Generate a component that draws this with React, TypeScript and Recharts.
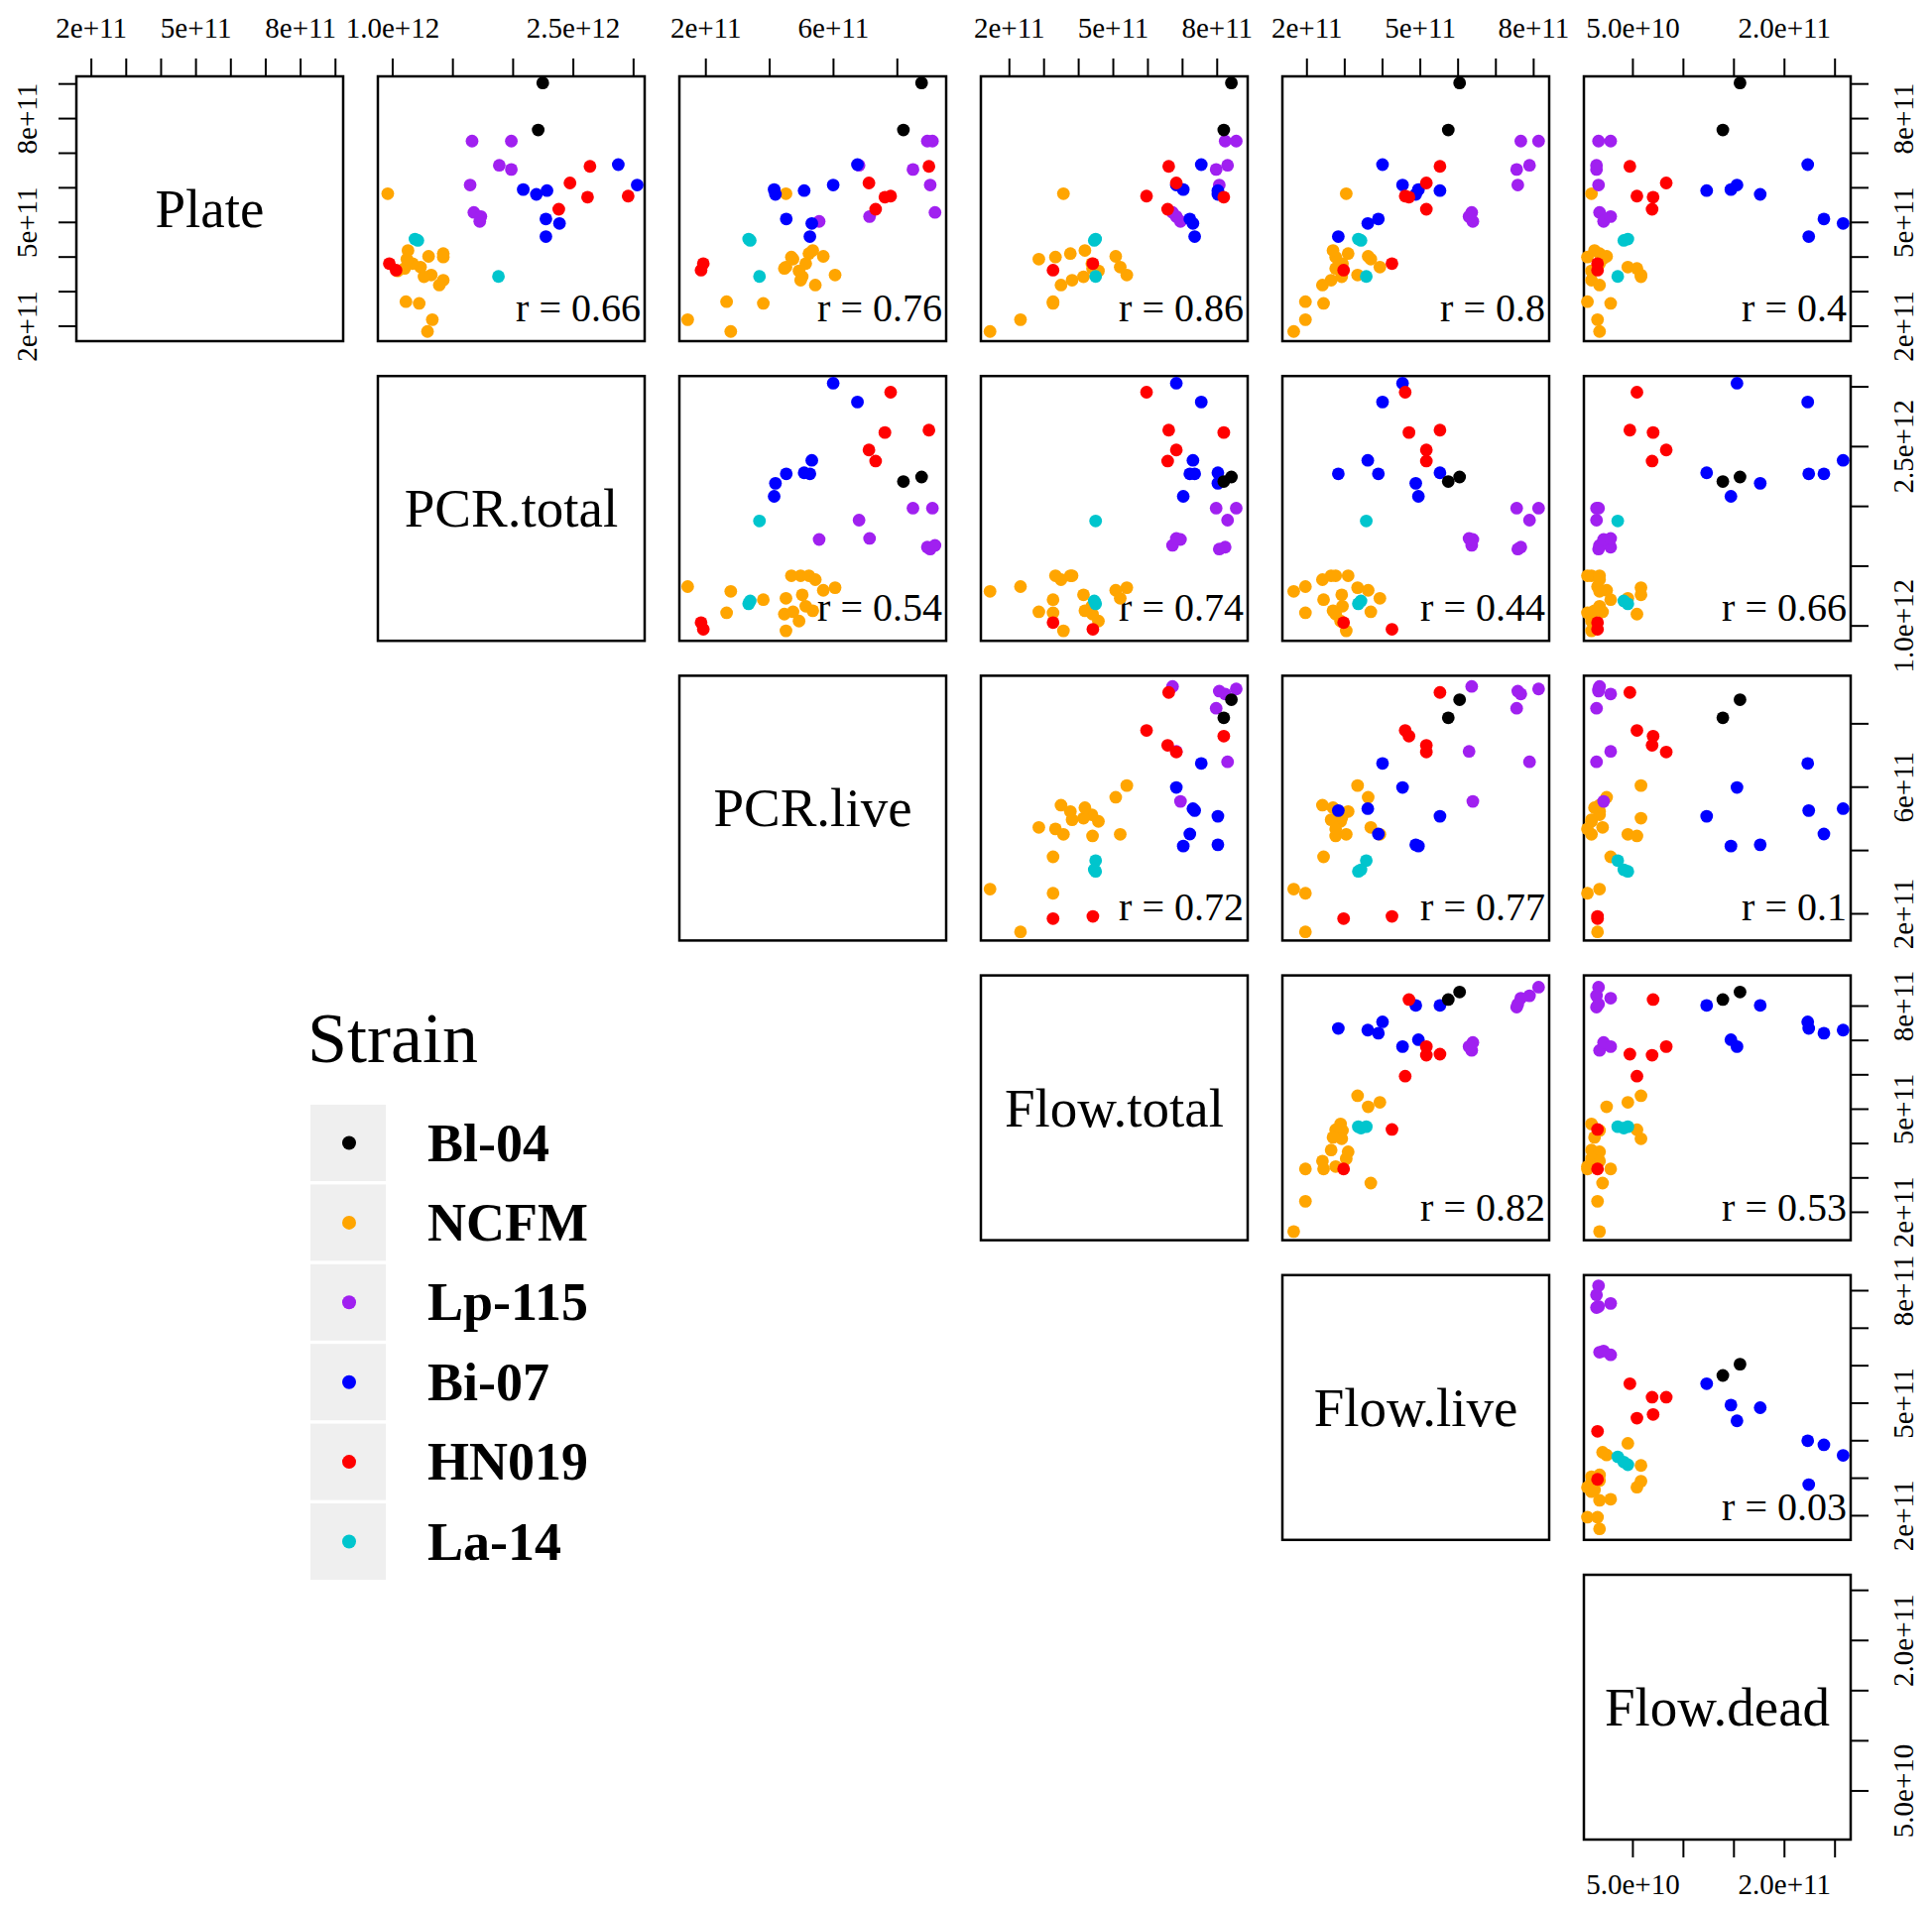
import React from 'react';
import { ScatterChart, Scatter, XAxis, YAxis } from 'recharts';

// ---------- data (all values in units of 1e11) ----------
// columns: Plate, PCR.total, PCR.live, Flow.total, Flow.live, Flow.dead
const VARIABLES = ['Plate', 'PCR.total', 'PCR.live', 'Flow.total', 'Flow.live', 'Flow.dead'];

const BL04 = [
  [9.03, 22.46, 8.76, 8.41, 6.04, 1.56],
  [7.67, 22.08, 8.19, 8.19, 5.74, 1.39],
];
const NCFM = [
  [3.48, 13.2, 6.05, 5.39, 3.34, 0.58],
  [4.02, 12.98, 5.68, 5.07, 3.62, 0.24],
  [3.71, 12.31, 4.51, 5.2, 3.93, 0.45],
  [3.6, 10.41, 4.92, 4.57, 2.89, 0.09],
  [3.81, 11.65, 5.13, 4.38, 2.94, 0.17],
  [3.43, 12.6, 5.02, 4.14, 2.92, 0.58],
  [3.67, 10.99, 4.46, 4.4, 2.76, 0.54],
  [3.33, 14.2, 4.97, 3.81, 2.64, 0.09],
  [4.1, 14.2, 5.23, 3.76, 3.09, 0.17],
  [5.83, 9.59, 4.51, 3.56, 3.04, 0.09],
  [4.0, 14.2, 4.68, 3.33, 2.76, 0.05],
  [2.66, 12.2, 3.8, 3.26, 2.44, 0.28],
  [2.71, 11.1, 2.65, 3.26, 1.96, 0.05],
  [3.94, 11.18, 4.73, 2.85, 3.69, 0.2],
  [2.19, 13.29, 1.43, 2.32, 1.96, 0.15],
  [1.85, 12.89, 2.78, 1.44, 1.65, 0.17],
  [4.19, 11.27, 5.35, 4.18, 2.69, 0.12],
  [3.19, 13.87, 5.43, 3.49, 2.41, 0.17],
];
const LP115 = [
  [7.35, 19.85, 9.1, 8.55, 8.13, 0.16],
  [6.53, 19.85, 8.49, 7.97, 7.55, 0.14],
  [6.65, 18.85, 6.8, 8.3, 7.89, 0.14],
  [7.35, 16.59, 8.94, 8.23, 7.66, 0.28],
  [6.08, 16.43, 9.03, 8.06, 7.58, 0.16],
  [5.29, 16.74, 9.18, 6.71, 6.36, 0.17],
  [5.03, 17.23, 5.55, 6.94, 6.39, 0.21],
  [5.17, 17.32, 7.13, 6.82, 6.29, 0.28],
];
const BI07 = [
  [5.92, 22.81, 5.08, 8.02, 5.52, 1.23],
  [5.81, 21.93, 4.18, 8.02, 4.88, 1.76],
  [5.95, 20.84, 4.14, 7.02, 4.95, 1.47],
  [6.08, 30.3, 5.99, 6.82, 4.53, 1.53],
  [4.59, 22.72, 5.26, 7.35, 2.83, 2.24],
  [6.67, 28.73, 6.75, 7.54, 4.0, 2.23],
  [5.1, 22.72, 4.52, 7.21, 3.89, 2.39],
  [4.97, 23.85, 5.32, 7.3, 3.61, 2.58],
];
const HN019 = [
  [6.62, 26.38, 8.99, 6.6, 5.52, 0.47],
  [6.14, 24.72, 7.11, 6.82, 5.16, 0.83],
  [5.38, 23.79, 7.32, 6.57, 5.16, 0.69],
  [5.73, 26.18, 7.61, 8.19, 4.7, 0.7],
  [5.76, 29.55, 7.79, 5.96, 4.6, 0.54],
  [3.81, 9.72, 1.92, 4.41, 4.25, 0.15],
  [3.62, 10.28, 1.85, 3.26, 2.97, 0.15],
];
const LA14 = [
  [3.44, 18.78, 3.68, 4.49, 3.57, 0.35],
  [4.52, 11.85, 3.34, 4.49, 3.36, 0.45],
  [4.48, 12.09, 3.39, 4.45, 3.43, 0.41],
];

const STRAIN_NAMES = ['Bl-04', 'NCFM', 'Lp-115', 'Bi-07', 'HN019', 'La-14'];
const STRAIN_COLORS = ['#000000', '#FFA500', '#A020F0', '#0000FF', '#FF0000', '#00C5CD'];
const STRAIN_ROWS = [BL04, NCFM, LP115, BI07, HN019, LA14];
const DRAW_ORDER = [1, 2, 3, 4, 5, 0];

// axis ranges & ticks (units of 1e11)
const RANGES: [number, number][] = [
  [1.57, 9.22],
  [8.77, 30.92],
  [1.17, 9.53],
  [1.176, 8.88],
  [1.35, 8.41],
  [0.015, 2.655],
];
const TICKS = [
  [2, 3, 4, 5, 6, 7, 8, 9],
  [10, 15, 20, 25, 30],
  [2, 4, 6, 8],
  [2, 3, 4, 5, 6, 7, 8],
  [2, 3, 4, 5, 6, 7, 8],
  [0.5, 1, 1.5, 2, 2.5],
];
const TICK_LABELS: Record<string, string>[] = [
  { '2': '2e+11', '5': '5e+11', '8': '8e+11' },
  { '10': '1.0e+12', '25': '2.5e+12' },
  { '2': '2e+11', '6': '6e+11' },
  { '2': '2e+11', '5': '5e+11', '8': '8e+11' },
  { '2': '2e+11', '5': '5e+11', '8': '8e+11' },
  { '0.5': '5.0e+10', '2': '2.0e+11' },
];

// correlation labels per row (upper triangle, left to right)
const R_ROW1 = ['0.66', '0.76', '0.86', '0.8', '0.4'];
const R_ROW2 = ['0.54', '0.74', '0.44', '0.66'];
const R_ROW3 = ['0.72', '0.77', '0.1'];
const R_ROW4 = ['0.82', '0.53'];
const R_ROW5 = ['0.03'];
const R_ROWS = [R_ROW1, R_ROW2, R_ROW3, R_ROW4, R_ROW5];

// ---------- layout ----------
const FONT = '"Liberation Serif", "Times New Roman", serif';
const PW = 269;
const PH = 267;
const colLeft = (c: number) => 77 + 304 * c;
const rowTop = (r: number) => 77 + 302.2 * r;
const M = 80;
const AX = 60;
const DOT_R = 6.4;

function tickRenderer(labels: Record<string, string>, side: string) {
  return (props: any) => {
    const { x, y, payload } = props;
    const label = labels[String(payload.value)];
    if (!label) return <g />;
    let tx = x;
    let ty = y;
    let rot = 0;
    if (side === 'top') ty = y - 29;
    else if (side === 'bottom') ty = y + 25;
    else if (side === 'right') {
      tx = x + 33;
      rot = -90;
    } else {
      tx = x - 30;
      rot = -90;
    }
    return (
      <text
        transform={`translate(${tx},${ty}) rotate(${rot})`}
        textAnchor="middle"
        dominantBaseline="central"
        fontFamily={FONT}
        fontSize={29}
        fill="#000"
      >
        {label}
      </text>
    );
  };
}

const emptyShape = () => <g />;

function Panel({ r, c }: { r: number; c: number }) {
  const top = r === 0;
  const right = c === 5;
  const left = r === 0 && c === 0;
  const bottom = r === 5 && c === 5;
  const margin = {
    top: top ? M - AX : M,
    right: right ? M - AX : M,
    bottom: bottom ? M - AX : M,
    left: left ? M - AX : M,
  };
  const xSide = bottom ? 'bottom' : 'top';
  const ySide = left ? 'left' : 'right';
  const diag = r === c;
  return (
    <div style={{ position: 'absolute', left: colLeft(c) - M, top: rowTop(r) - M }}>
      <ScatterChart width={PW + 2 * M} height={PH + 2 * M} margin={margin}>
        <XAxis
          type="number"
          dataKey="x"
          domain={RANGES[c]}
          ticks={TICKS[c]}
          orientation={xSide as any}
          hide={!(top || bottom)}
          height={AX}
          interval={0}
          axisLine={false}
          tickSize={18}
          stroke="#000"
          tickLine={{ stroke: '#000', strokeWidth: 2 }}
          tick={tickRenderer(TICK_LABELS[c], xSide)}
        />
        <YAxis
          type="number"
          dataKey="y"
          domain={RANGES[r]}
          ticks={TICKS[r]}
          orientation={ySide as any}
          hide={!(left || right)}
          width={AX}
          interval={0}
          axisLine={false}
          tickSize={18}
          stroke="#000"
          tickLine={{ stroke: '#000', strokeWidth: 2 }}
          tick={tickRenderer(TICK_LABELS[r], ySide)}
        />
        {DRAW_ORDER.map((k) => (
          <Scatter
            key={k}
            name={STRAIN_NAMES[k]}
            data={STRAIN_ROWS[k].map((v) => ({ x: v[c], y: v[r] }))}
            isAnimationActive={false}
            shape={
              diag
                ? emptyShape
                : (p: any) => <circle cx={p.cx} cy={p.cy} r={DOT_R} fill={STRAIN_COLORS[k]} />
            }
          />
        ))}
      </ScatterChart>
    </div>
  );
}

function Overlay() {
  const items: React.ReactNode[] = [];
  for (let r = 0; r < 6; r++) {
    for (let c = r; c < 6; c++) {
      items.push(
        <rect
          key={`b${r}${c}`}
          x={colLeft(c)}
          y={rowTop(r)}
          width={PW}
          height={PH}
          fill="none"
          stroke="#000"
          strokeWidth={2.5}
        />
      );
      if (r === c) {
        items.push(
          <text
            key={`d${r}`}
            x={colLeft(c) + PW / 2}
            y={rowTop(r) + PH / 2}
            textAnchor="middle"
            dominantBaseline="central"
            fontFamily={FONT}
            fontSize={55}
            fill="#000"
          >
            {VARIABLES[r]}
          </text>
        );
      } else {
        items.push(
          <text
            key={`r${r}${c}`}
            x={colLeft(c) + PW - 4}
            y={rowTop(r) + PH - 20}
            textAnchor="end"
            fontFamily={FONT}
            fontSize={40}
            fill="#000"
          >
            {`r = ${R_ROWS[r][c - r - 1]}`}
          </text>
        );
      }
    }
  }
  // legend
  const KX = 313;
  const KY = 1114;
  const KP = 80.4;
  items.push(
    <text key="lt" x={310} y={1071} fontFamily={FONT} fontSize={72} fill="#000">
      Strain
    </text>
  );
  STRAIN_NAMES.forEach((name, k) => {
    const y = KY + k * KP;
    items.push(<rect key={`lk${k}`} x={KX} y={y} width={76} height={77} fill="#EFEFEF" />);
    items.push(<circle key={`lc${k}`} cx={KX + 39} cy={y + 38.5} r={7} fill={STRAIN_COLORS[k]} />);
    items.push(
      <text
        key={`ll${k}`}
        x={431}
        y={y + 38.5 + 18}
        fontFamily={FONT}
        fontWeight="bold"
        fontSize={54}
        fill="#000"
      >
        {name}
      </text>
    );
  });
  return (
    <svg width={1948} height={1923} style={{ position: 'absolute', left: 0, top: 0 }}>
      {items}
    </svg>
  );
}

export default function App() {
  const panels: React.ReactNode[] = [];
  for (let r = 0; r < 6; r++) {
    for (let c = r; c < 6; c++) {
      panels.push(<Panel key={`${r}-${c}`} r={r} c={c} />);
    }
  }
  return (
    <div style={{ position: 'absolute', left: 0, top: 0, width: 1948, height: 1923, background: '#fff' }}>
      <Overlay />
      {panels}
    </div>
  );
}
